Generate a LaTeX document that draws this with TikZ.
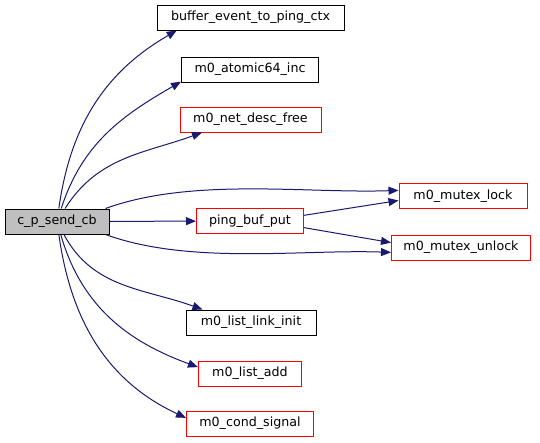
\documentclass[tikz,border=0pt]{standalone}
\usepackage{fontspec}
\setmainfont{DejaVu Sans}
\usetikzlibrary{arrows.meta, positioning}
\definecolor{edgeblue}{HTML}{191970}
\definecolor{boxgray}{HTML}{BFBFBF}

\begin{document}
\begin{tikzpicture}[x=0.75pt, y=0.75pt,
  fn/.style={draw=black, line width=0.75pt, fill=white, inner sep=0pt,
    minimum height=18.75pt, font=\fontsize{9.5}{11}\selectfont},
  fnred/.style={fn, draw=red},
  call/.style={draw=edgeblue, line width=0.75pt,
    -{Triangle[length=7.5pt,width=6pt,fill=edgeblue]}}]
  \useasboundingbox (0,0) rectangle (540,-443);
  % caller
  \node[fn, fill=boxgray, minimum width=78pt] (main) at (57,-221.5) {c\_p\_send\_cb};
  % callees
  \node[fn, minimum width=140.25pt] (buf) at (250.5,-17.5) {buffer\_event\_to\_ping\_ctx};
  \node[fn, minimum width=102.75pt] (atomic) at (250,-69.5) {m0\_atomic64\_inc};
  \node[fnred, minimum width=105.75pt] (descfree) at (250.5,-119.5) {m0\_net\_desc\_free};
  \node[fnred, minimum width=80.25pt] (ping) at (250,-221) {ping\_buf\_put};
  \node[fnred, minimum width=96pt] (lock) at (463,-196) {m0\_mutex\_lock};
  \node[fnred, minimum width=104.25pt] (unlock) at (461,-247.5) {m0\_mutex\_unlock};
  \node[fn, minimum width=97.5pt] (linkinit) at (251,-322.5) {m0\_list\_link\_init};
  \node[fnred, minimum width=77.25pt] (listadd) at (250,-373.5) {m0\_list\_add};
  \node[fnred, minimum width=95.25pt] (signal) at (250,-423.5) {m0\_cond\_signal};
  % calls
  \draw[call] (main.82) to[out=82, in=210] (buf.190);
  \draw[call] (main.72) to[out=72, in=210] (atomic.190);
  \draw[call] (main.58) to[out=58, in=200] (descfree.195);
  \draw[call] (main.15) to[out=20, in=182, looseness=0.8] (lock.175);
  \draw[call] (main) -- (ping);
  \draw[call] (main.-15) to[out=-20, in=178, looseness=0.8] (unlock.184);
  \draw[call] (main.-62) to[out=-62, in=160] (linkinit.165);
  \draw[call] (main.-74) to[out=-74, in=160] (listadd.173);
  \draw[call] (main.-82) to[out=-82, in=155] (signal.175);
  \draw[call] (ping.6) -- (lock.184);
  \draw[call] (ping.-7) -- (unlock.176);
\end{tikzpicture}
\end{document}
